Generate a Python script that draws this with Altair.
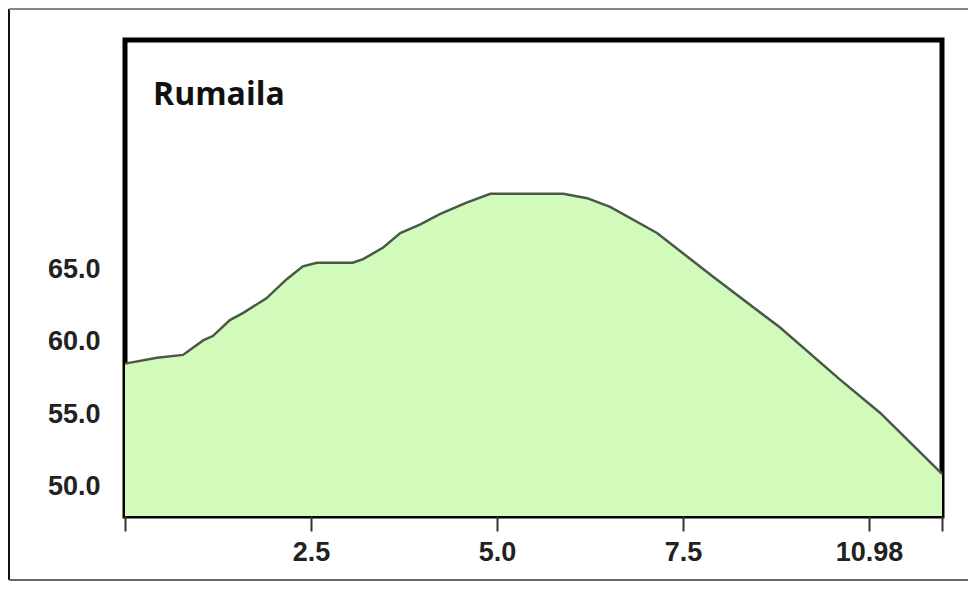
import altair as alt
import pandas as pd

# distance (km) and elevation values
dist = [0.0, 0.43, 0.78, 1.05, 1.18, 1.41, 1.59, 1.90, 2.17, 2.39, 2.58, 3.06, 3.20,
        3.47, 3.70, 3.97, 4.23, 4.59, 4.91, 5.89, 6.21, 6.52, 7.15, 7.90, 8.80,
        9.61, 10.15, 10.98]
elev = [58.5, 58.9, 59.1, 60.1, 60.4, 61.5, 62.0, 63.0, 64.3, 65.2, 65.45, 65.45, 65.7,
        66.5, 67.5, 68.1, 68.8, 69.6, 70.2, 70.2, 69.9, 69.3, 67.5, 64.5, 61.0,
        57.4, 55.1, 50.9]

x_ticks = [0, 2.5, 5, 7.5, 10, 10.98]
x_tick_labels = ["", "2.5", "5.0", "7.5", "10.98", ""]
y_ticks = [50, 55, 60, 65]
title_text = "Rumaila"

df = pd.DataFrame({"d": dist, "e": elev})

label_expr = " : ".join(
    [f"datum.value == {v} ? '{l}'" for v, l in zip(x_ticks, x_tick_labels)] + ["''"]
)

W, H = 817, 476
PL, PT = 117, 32

x_scale = alt.Scale(domain=[0, 10.98], nice=False, zero=False)
y_scale = alt.Scale(domain=[48, 80.8], nice=False, zero=False)

area = alt.Chart(df).mark_area(
    color="#d2fabb", opacity=1,
    line={"color": "#4a5847", "strokeWidth": 2.5},
).encode(
    x=alt.X("d:Q", scale=x_scale, title=None,
            axis=alt.Axis(values=x_ticks, labelExpr=label_expr, domain=False,
                          grid=False, ticks=True, tickSize=15, tickWidth=2,
                          tickColor="#333333", labelPadding=8, labelFontSize=27,
                          labelFont="Liberation Sans", labelFontWeight="bold",
                          labelColor="#222222", labelFlush=False)),
    y=alt.Y("e:Q", scale=y_scale, title=None,
            axis=alt.Axis(values=y_ticks, format=".1f", domain=False, grid=False,
                          ticks=False, tickSize=0, labelPadding=25, labelFontSize=27,
                          labelFont="Liberation Sans", labelFontWeight="bold",
                          labelColor="#222222")),
    y2=alt.datum(48),
)

title_df = pd.DataFrame({"t": [title_text]})
title_mark = alt.Chart(title_df).mark_text(
    align="left", baseline="alphabetic", font="Open Sans", fontSize=32,
    fontWeight="bold", color="#111111",
).encode(text="t:N", x=alt.value(28), y=alt.value(65))

one = pd.DataFrame({"k": [0]})
left_border = alt.Chart(one).mark_rule(color="#111111", strokeWidth=2).encode(
    x=alt.value(-PL + 1), y=alt.value(-PT + 1), y2=alt.value(H + 64))
top_border = alt.Chart(one).mark_rule(color="#888888", strokeWidth=2).encode(
    x=alt.value(-PL + 1), x2=alt.value(W + 26), y=alt.value(-PT + 1))
bottom_border = alt.Chart(one).mark_rule(color="#666666", strokeWidth=2).encode(
    x=alt.value(-PL + 1), x2=alt.value(W + 26), y=alt.value(H + 64))

chart = alt.layer(area, title_mark, left_border, top_border, bottom_border).properties(
    width=W, height=H,
    autosize=alt.AutoSizeParams(type="none"),
    padding={"left": PL, "top": PT, "right": 26, "bottom": 65},
).configure_view(stroke="#000000", strokeWidth=5)

chart.save("out.html", embed_options={"renderer": "svg", "actions": False})
